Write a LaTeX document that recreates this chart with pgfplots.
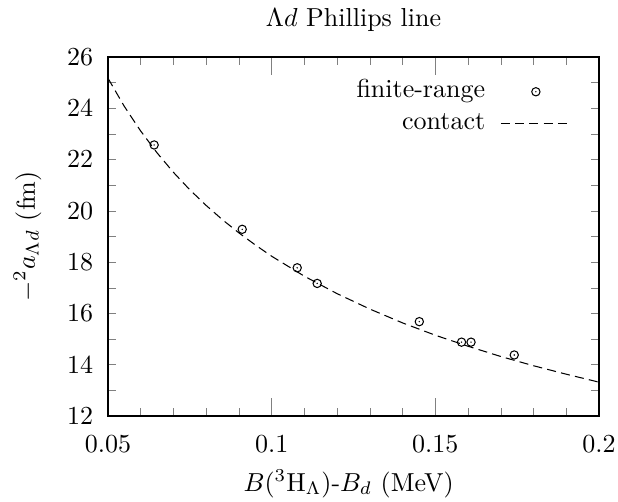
\documentclass[border=0pt]{standalone}
\usepackage{pgfplots}
\pgfplotsset{compat=1.18}
\pgfdeclareplotmark{odot}{%
  \pgfpathcircle{\pgfpointorigin}{\pgfplotmarksize}\pgfusepathqstroke
  \pgfpathcircle{\pgfpointorigin}{0.3pt}\pgfusepathqfill}
\begin{document}
\begin{tikzpicture}
\begin{axis}[
  scale only axis,
  width=188.85pt, height=138.08pt,
  xmin=0.05, xmax=0.2, ymin=12, ymax=26,
  xtick={0.05,0.1,0.15,0.2},
  xticklabels={0.05,0.1,0.15,0.2},
  minor x tick num=4,
  ytick={12,14,...,26},
  minor ytick={12,13,...,26},
  major y tick style={draw=none},
  tick align=inside,
  major tick length=6.8pt,
  minor tick length=3.2pt,
  axis line style={line width=0.6pt},
  yticklabel style={xshift=-2.2pt},
  xticklabel style={yshift=-4pt},
  every axis title shift=0pt,
  title={$\Lambda d$ Phillips line},
  title style={at={(axis description cs:0.5,1.0863)}, anchor=base, inner sep=0pt},
  xlabel={$B(^3\mathrm{H}_\Lambda)$-$B_d$ (MeV)},
  xlabel style={at={(axis description cs:0.49,-0.2089)}, anchor=base, inner sep=0pt},
  ylabel={$-^2a_{\Lambda d}$ (fm)},
  ylabel style={at={(axis description cs:-0.164,0.5)}, anchor=center, rotate=0, inner sep=0pt},
  legend plot pos=right,
  legend cell align=right,
  legend image code/.code={\draw[mark repeat=2,mark phase=2,#1] plot coordinates {(0pt,0pt) (13.5pt,0pt) (27pt,0pt)};},
  legend style={draw=none, fill=none, inner sep=0pt, at={(axis description cs:0.945,0.939)}, anchor=north east,
    nodes={inner sep=0pt, text height=7pt, text depth=2.5pt}, row sep=2.7pt, column sep=5.8pt},
]
\addplot[only marks, mark=odot, mark size=1.6pt, line width=0.4pt] coordinates {
  (0.0641,22.57) (0.0910,19.28) (0.1078,17.78) (0.1139,17.17)
  (0.1451,15.68) (0.1580,14.88) (0.1609,14.88) (0.1741,14.38)
};
\addlegendentry{finite-range}
\addplot[black, line width=0.4pt, dash pattern=on 3.5pt off 2.0pt, mark=none] coordinates {
  (0.050,25.17) (0.055,24.07) (0.060,23.11) (0.065,22.26) (0.070,21.50)
  (0.075,20.82) (0.080,20.21) (0.085,19.65) (0.090,19.14) (0.095,18.67)
  (0.100,18.23) (0.110,17.45) (0.120,16.77) (0.130,16.17) (0.140,15.63)
  (0.150,15.15) (0.160,14.72) (0.170,14.32) (0.180,13.96) (0.190,13.63)
  (0.200,13.32)
};
\addlegendentry{contact}
\end{axis}
\pgfresetboundingbox
\useasboundingbox (-41.54pt,-32.69pt) rectangle (196.15pt,160pt);
\end{tikzpicture}
\end{document}
